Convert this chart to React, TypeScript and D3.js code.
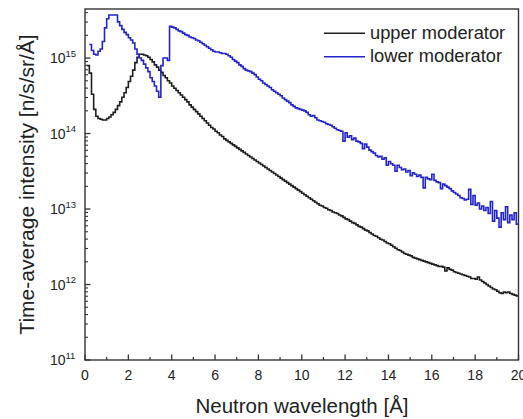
import React from "react";
import * as d3 from "d3";

// Wavelength bins (Å): values hold from bin start for one bin width
const BIN_WIDTH = 0.1;
const UPPER_START = 0.1;
const LOWER_START = 0.2;

// log10 of time-average intensity [n/s/sr/Å], upper moderator, bins 0.1 … 20.0 Å
const upperLog10 = [
  14.90, 14.80, 14.52, 14.32, 14.23, 14.20, 14.19, 14.18, 14.18, 14.20,
  14.22, 14.25, 14.28, 14.32, 14.37, 14.42, 14.48, 14.54, 14.61, 14.69,
  14.76, 14.84, 14.94, 15.01, 15.05, 15.05, 15.04, 15.03, 15.01, 14.98,
  14.95, 14.91, 14.88, 14.84, 14.81, 14.77, 14.74, 14.70, 14.67, 14.63,
  14.60, 14.57, 14.54, 14.51, 14.48, 14.45, 14.42, 14.38, 14.35, 14.32,
  14.29, 14.26, 14.23, 14.20, 14.17, 14.14, 14.11, 14.08, 14.06, 14.03,
  14.01, 13.98, 13.96, 13.93, 13.91, 13.89, 13.87, 13.85, 13.83, 13.81,
  13.79, 13.77, 13.75, 13.73, 13.71, 13.69, 13.67, 13.65, 13.63, 13.61,
  13.59, 13.57, 13.55, 13.53, 13.51, 13.49, 13.47, 13.45, 13.43, 13.41,
  13.39, 13.37, 13.35, 13.33, 13.31, 13.29, 13.27, 13.25, 13.23, 13.21,
  13.19, 13.17, 13.15, 13.13, 13.11, 13.09, 13.07, 13.05, 13.04, 13.02,
  13.01, 12.99, 12.98, 12.96, 12.95, 12.94, 12.92, 12.91, 12.89, 12.87,
  12.86, 12.84, 12.82, 12.81, 12.79, 12.77, 12.76, 12.74, 12.72, 12.71,
  12.69, 12.67, 12.65, 12.64, 12.62, 12.60, 12.59, 12.57, 12.55, 12.54,
  12.52, 12.50, 12.48, 12.46, 12.45, 12.43, 12.41, 12.40, 12.39, 12.38,
  12.36, 12.35, 12.34, 12.33, 12.32, 12.31, 12.30, 12.29, 12.28, 12.27,
  12.26, 12.25, 12.24, 12.24, 12.23, 12.18, 12.22, 12.20, 12.19, 12.17,
  12.16, 12.15, 12.14, 12.13, 12.12, 12.11, 12.10, 12.08, 12.08, 12.07,
  12.10, 12.06, 12.04, 12.02, 12.00, 11.98, 11.96, 11.94, 11.93, 11.91,
  11.89, 11.88, 11.90, 11.89, 11.90, 11.88, 11.87, 11.86, 11.85, 11.85,
];

// log10 of time-average intensity, lower moderator, bins 0.2 … 20.0 Å
const lowerLog10 = [
  15.18, 15.10, 15.05, 15.04, 15.09, 15.12, 15.22, 15.40, 15.52,
  15.57, 15.57, 15.57, 15.57, 15.48, 15.43, 15.38, 15.34, 15.31, 15.27,
  15.24, 15.20, 15.12, 15.05, 15.00, 14.97, 14.92, 14.87, 14.82, 14.74,
  14.69, 14.63, 14.56, 14.48, 14.90, 15.00, 15.00, 14.97, 15.42, 15.41,
  15.40, 15.38, 15.36, 15.35, 15.33, 15.31, 15.30, 15.28, 15.27, 15.26,
  15.24, 15.23, 15.21, 15.19, 15.17, 15.15, 15.13, 15.11, 15.09, 15.08,
  15.08, 15.07, 15.06, 15.06, 15.05, 15.03, 15.01, 14.98, 14.96, 14.94,
  14.91, 14.89, 14.86, 14.84, 14.83, 14.82, 14.80, 14.78, 14.75, 14.72,
  14.70, 14.67, 14.65, 14.63, 14.61, 14.58, 14.56, 14.54, 14.52, 14.50,
  14.47, 14.45, 14.43, 14.41, 14.38, 14.36, 14.34, 14.33, 14.32, 14.31,
  14.30, 14.28, 14.25, 14.23, 14.24, 14.21, 14.18, 14.17, 14.16, 14.15,
  14.13, 14.12, 14.11, 14.09, 14.07, 14.05, 14.04, 14.03, 13.90, 14.01,
  13.95, 13.97, 13.92, 13.94, 13.90, 13.89, 13.87, 13.80, 13.86, 13.82,
  13.78, 13.76, 13.74, 13.71, 13.69, 13.70, 13.66, 13.68, 13.58, 13.63,
  13.60, 13.58, 13.50, 13.58, 13.55, 13.52, 13.53, 13.49, 13.51, 13.44,
  13.48, 13.46, 13.43, 13.45, 13.42, 13.28, 13.42, 13.40, 13.39, 13.46,
  13.38, 13.36, 13.35, 13.27, 13.33, 13.31, 13.29, 13.27, 13.24, 13.22,
  13.20, 13.18, 13.15, 13.14, 13.12, 13.13, 13.26, 13.06, 13.18, 13.05,
  13.08, 13.00, 13.04, 12.98, 13.02, 12.94, 13.10, 12.84, 12.98, 12.88,
  12.76, 12.95, 12.86, 13.03, 12.82, 12.92, 12.86, 12.95, 12.80, 12.80,
];

const xTicks = [0, 2, 4, 6, 8, 10, 12, 14, 16, 18, 20];
const xMinorTicks = [1, 3, 5, 7, 9, 11, 13, 15, 17, 19];
const yDecadeExponents = [11, 12, 13, 14, 15];
const legendLabels = ["upper moderator", "lower moderator"];

const W = 523;
const H = 419;
const M = { left: 85, right: 4.5, top: 9, bottom: 59 };
const FONT = "'Liberation Sans', Arial, Helvetica, sans-serif";
const BLACK = "#1e1e1e";
const BLUE = "#2424cc";
const AXIS = "#333";
const TEXT = "#222";

type Pt = { x: number; y: number };

export default function App() {
  const x = d3.scaleLinear().domain([0, 20]).range([M.left, W - M.right]);
  const y = d3
    .scaleLog()
    .domain([1e11, Math.pow(10, 15.65)])
    .range([H - M.bottom, M.top]);

  const upper: Pt[] = upperLog10.map((v, i) => ({
    x: UPPER_START + i * BIN_WIDTH,
    y: Math.pow(10, v),
  }));
  const lower: Pt[] = lowerLog10.map((v, i) => ({
    x: LOWER_START + i * BIN_WIDTH,
    y: Math.pow(10, v),
  }));

  const line = d3
    .line<Pt>()
    .x((d) => x(d.x))
    .y((d) => y(d.y))
    .curve(d3.curveStepAfter);

  const x0 = M.left;
  const x1 = W - M.right;
  const y0 = H - M.bottom;
  const y1 = M.top;

  const yMinor: number[] = [];
  yDecadeExponents.forEach((e) => {
    for (let m = 2; m <= 9; m++) {
      const v = m * Math.pow(10, e);
      if (v <= y.domain()[1]) yMinor.push(v);
    }
  });

  const series = [
    { label: legendLabels[0], color: BLACK, d: line(upper) },
    { label: legendLabels[1], color: BLUE, d: line(lower) },
  ];

  return (
    <svg
      width={W}
      height={H}
      style={{ position: "absolute", left: 0, top: 0, background: "#fff" }}
      fontFamily={FONT}
    >
      <defs>
        <clipPath id="plotClip">
          <rect x={x0} y={y1} width={x1 - x0} height={y0 - y1} />
        </clipPath>
      </defs>

      <g clipPath="url(#plotClip)">
        {series.map((s) => (
          <path
            key={s.label}
            d={s.d || ""}
            fill="none"
            stroke={s.color}
            strokeWidth={1.6}
            strokeLinejoin="miter"
          />
        ))}
      </g>

      {/* frame */}
      <rect
        x={x0}
        y={y1}
        width={x1 - x0}
        height={y0 - y1}
        fill="none"
        stroke={AXIS}
        strokeWidth={1.4}
      />

      {/* x ticks */}
      {xTicks.map((t) => (
        <g key={"xt" + t}>
          <line x1={x(t)} x2={x(t)} y1={y0} y2={y0 - 5.5} stroke={AXIS} strokeWidth={1.3} />
          <text x={x(t)} y={y0 + 20} textAnchor="middle" fontSize={14} fill={TEXT}>
            {t}
          </text>
        </g>
      ))}
      {xMinorTicks.map((t) => (
        <line key={"xm" + t} x1={x(t)} x2={x(t)} y1={y0} y2={y0 - 3} stroke={AXIS} strokeWidth={1.2} />
      ))}

      {/* y ticks */}
      {yDecadeExponents.map((e) => {
        const yy = y(Math.pow(10, e));
        return (
          <g key={"yt" + e}>
            <line x1={x0} x2={x0 + 5.5} y1={yy} y2={yy} stroke={AXIS} strokeWidth={1.3} />
            <text x={65.5} y={yy + 5} textAnchor="end" fontSize={14} fill={TEXT}>
              10
            </text>
            <text x={65.5} y={yy - 1.5} textAnchor="start" fontSize={9.5} fill={TEXT}>
              {e}
            </text>
          </g>
        );
      })}
      {yMinor.map((v) => (
        <line key={"ym" + v} x1={x0} x2={x0 + 3} y1={y(v)} y2={y(v)} stroke={AXIS} strokeWidth={1.1} />
      ))}

      {/* axis titles */}
      <text
        x={302}
        y={413}
        textAnchor="middle"
        fontSize={20.5}
        fill={TEXT}
      >
        Neutron wavelength [Å]
      </text>
      <text
        transform={`translate(33.5, ${184.5}) rotate(-90)`}
        textAnchor="middle"
        fontSize={21}
        fill={TEXT}
      >
        Time-average intensity [n/s/sr/Å]
      </text>

      {/* legend */}
      {series.map((s, i) => (
        <g key={"lg" + i} transform={`translate(0, ${33.3 + i * 23.4})`}>
          <line x1={324} x2={365} y1={0} y2={0} stroke={s.color} strokeWidth={1.6} />
          <text x={370} y={5.5} fontSize={18.3} fill={TEXT}>
            {s.label}
          </text>
        </g>
      ))}
    </svg>
  );
}
